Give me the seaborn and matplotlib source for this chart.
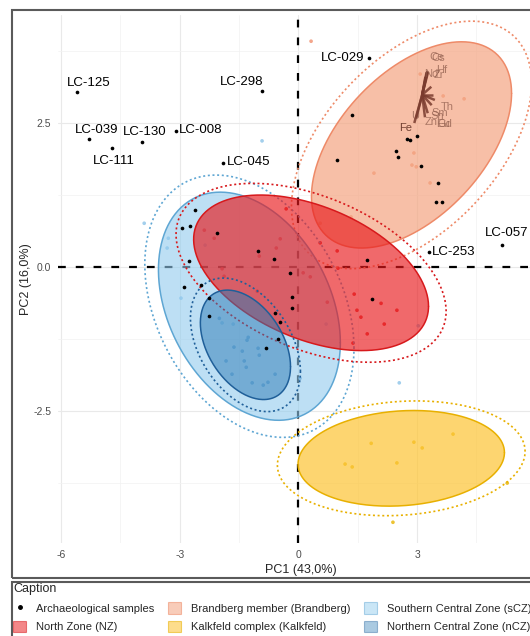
import numpy as np
import pandas as pd
import matplotlib
matplotlib.use("Agg")
import matplotlib.pyplot as plt
from matplotlib.patches import Rectangle, Patch
from matplotlib.lines import Line2D
import seaborn as sns

# labelled archaeological samples
lab_names = ["LC-125", "LC-039", "LC-111", "LC-130", "LC-008",
             "LC-298", "LC-045", "LC-029", "LC-253", "LC-057"]
lab_pc1 = [-5.59, -5.29, -4.71, -3.95, -3.09, -0.91, -1.92, 1.79, 3.30, 5.15]
lab_pc2 = [3.04, 2.22, 2.07, 2.17, 2.36, 3.06, 1.81, 3.63, 0.26, 0.38]

# other archaeological samples
arch_pc1 = [1.36, 0.98, 2.75, 2.82, 3.00, 2.47, 2.52, 3.10, 3.53, 3.48, 3.63,
            -2.61, -2.94, -2.74, -2.06, -1.02, -0.61, -2.76, -0.21, -2.89, -2.46,
            -2.26, -0.16, -0.16, -0.59, -0.46, -2.26, -0.51, -0.82, 1.86, 1.74]
arch_pc2 = [2.64, 1.86, 2.22, 2.20, 2.27, 2.01, 1.91, 1.75, 1.46, 1.13, 1.13,
            0.99, 0.68, 0.71, 0.59, 0.28, 0.14, 0.10, -0.10, -0.35, -0.31,
            -0.54, -0.52, -0.71, -0.80, -0.95, -0.85, -1.25, -1.41, -0.56, 0.12]

# geological reference groups
brand_pc1 = [0.32, 3.08, 3.66, 4.19, 2.92, 2.87, 2.98, 1.91, 3.33, 0.55, 1.33]
brand_pc2 = [3.92, 3.35, 2.97, 2.92, 1.98, 1.77, 1.74, 1.63, 1.46, 0.76, 0.87]

nz_pc1 = [-0.31, -0.46, -0.56, 0.55, 0.98, 0.12, 0.30, 1.00, 0.73, 1.41, 2.09, 2.49,
          1.48, 1.58, 2.17, 1.74, 1.38, -2.38, -2.13, -0.99, -1.93, -1.88, -1.04]
nz_pc2 = [1.01, 0.49, 0.33, 0.42, 0.28, -0.10, -0.17, -0.02, -0.61, -0.47, -0.63, -0.75,
          -0.75, -0.87, -0.99, -1.16, -1.32, 0.64, 0.50, 0.19, -0.03, -0.16, -0.42]

scz_pc1 = [-3.90, -3.29, -2.36, -3.32, -2.97, -1.93, -1.65, 0.70, 3.03, -0.92, 2.55]
scz_pc2 = [0.76, 0.50, 0.38, 0.33, -0.54, -0.97, -0.99, -0.99, -1.02, 2.19, -2.01]

ncz_pc1 = [-1.27, -1.63, -1.42, -1.83, -1.37, -1.32, -1.02, -0.99, -1.68, -1.17,
           -0.89, -0.77, -0.59, 0.04, -2.00, -1.30]
ncz_pc2 = [-1.22, -1.39, -1.46, -1.63, -1.63, -1.74, -1.41, -1.53, -1.86, -2.01,
           -2.05, -2.00, -1.86, -1.93, -0.89, -1.27]

kalk_pc1 = [1.84, 2.92, 3.13, 3.91, 1.18, 1.36, 2.49, 5.28, 2.39]
kalk_pc2 = [-3.06, -3.04, -3.14, -2.90, -3.42, -3.47, -3.40, -3.75, -4.43]

# ellipses: centre, half extent in x / y, correlation, scale of the dotted one
groups = ["Brandberg", "sCZ", "NZ", "Kalkfeld", "nCZ"]
ell_cx = [2.86, -1.24, 0.32, 2.60, -1.34]
ell_cy = [2.12, -0.68, -0.10, -3.32, -1.35]
ell_rx = [2.53, 2.30, 2.97, 2.61, 1.14]
ell_ry = [1.79, 1.98, 1.35, 0.83, 0.95]
ell_rho = [0.50, -0.32, -0.43, 0.12, -0.40]
ell_outer = [1.20, 1.15, 1.15, 1.20, 1.22]

# variable loadings (biplot arrows)
var_names = ["Cs", "Ce", "Hf", "Zr", "Nd", "Th", "Sm", "Gd", "Eu", "Sn", "Zn", "U", "Fe"]
var_origin = (3.13, 2.99)
var_pc1 = [3.26, 3.24, 3.28, 3.25, 3.21, 3.36, 3.40, 3.45, 3.37, 3.27, 3.20, 2.98, 2.93]
var_pc2 = [3.40, 3.38, 3.39, 3.35, 3.30, 3.13, 2.99, 2.90, 2.81, 2.67, 2.60, 2.59, 2.50]
var_lab_pc1 = [3.53, 3.50, 3.63, 3.55, 3.35, 3.76, 3.58, 3.70, 3.65, 3.50, 3.35, 2.95, 2.72]
var_lab_pc2 = [3.63, 3.64, 3.42, 3.33, 3.35, 2.78, 2.67, 2.48, 2.48, 2.62, 2.52, 2.62, 2.41]

fill_col = {"Brandberg": "#F4A582", "NZ": "#E8191C", "Kalkfeld": "#FDC433",
            "sCZ": "#92CBEE", "nCZ": "#2C7BB6"}
fill_alpha = {"Brandberg": 0.7, "NZ": 0.65, "Kalkfeld": 0.7, "sCZ": 0.6, "nCZ": 0.5}
edge_col = {"Brandberg": "#EE8A68", "NZ": "#D7191C", "Kalkfeld": "#E8B000",
            "sCZ": "#5EA6D3", "nCZ": "#1F5F99"}
point_col = {"Brandberg": "#F08F6E", "NZ": "#E31A1C", "Kalkfeld": "#E8B400",
             "sCZ": "#8CC3E8", "nCZ": "#4A8CC4"}

# label offsets (pixels) and alignment for the named samples
lab_off = [(11, 9), (7, 9), (2, -13), (2, 10), (3, 1), (-21, 9), (4, 1), (-5, 0), (3, 0), (5, 12)]
lab_ha = ["center", "center", "center", "center", "left", "center", "left", "right", "left", "center"]


def ellipse_xy(cx, cy, rx, ry, rho, k=1.0, n=240):
    cov = np.array([[rx ** 2, rho * rx * ry], [rho * rx * ry, ry ** 2]])
    L = np.linalg.cholesky(cov)
    t = np.linspace(0, 2 * np.pi, n)
    pts = k * (L @ np.vstack([np.cos(t), np.sin(t)]))
    return cx + pts[0], cy + pts[1]


sns.set_theme(style="white")
plt.rcParams["font.family"] = ["Liberation Sans", "DejaVu Sans"]

ref = pd.concat([
    pd.DataFrame({"PC1": brand_pc1, "PC2": brand_pc2, "group": "Brandberg"}),
    pd.DataFrame({"PC1": nz_pc1, "PC2": nz_pc2, "group": "NZ"}),
    pd.DataFrame({"PC1": scz_pc1, "PC2": scz_pc2, "group": "sCZ"}),
    pd.DataFrame({"PC1": ncz_pc1, "PC2": ncz_pc2, "group": "nCZ"}),
    pd.DataFrame({"PC1": kalk_pc1, "PC2": kalk_pc2, "group": "Kalkfeld"}),
], ignore_index=True)
arch = pd.DataFrame({"PC1": arch_pc1 + lab_pc1, "PC2": arch_pc2 + lab_pc2})

fig = plt.figure(figsize=(5.3, 6.36), dpi=100)
ax = fig.add_axes([58 / 530, 93 / 636, 485.6 / 530, 528 / 636])
ax.set_xlim(-6.08, 6.2)
ax.set_ylim(-4.79, 4.375)

ax.set_xticks([-6, -3, 0, 3])
ax.set_xticklabels(["-6", "-3", "0", "3"])
ax.set_xticks([-4.5, -1.5, 1.5, 4.5], minor=True)
ax.set_yticks([-2.5, 0, 2.5])
ax.set_yticklabels(["-2.5", "0.0", "2.5"])
ax.set_yticks([-3.75, -1.25, 1.25, 3.75], minor=True)
ax.grid(which="major", color="#E9E9E9", lw=0.8)
ax.grid(which="minor", color="#F2F2F2", lw=0.5)
ax.set_axisbelow(True)
for s in ax.spines.values():
    s.set_visible(False)
ax.tick_params(which="both", length=0, labelsize=7.5, labelcolor="#4D4D4D", pad=5)

# reference lines
ax.axhline(0, color="black", lw=1.6, dashes=(3.5, 4.5), zorder=1)
ax.axvline(0, color="black", lw=1.6, dashes=(3.5, 4.5), zorder=1)

# group points
sns.scatterplot(data=ref, x="PC1", y="PC2", hue="group", palette=point_col,
                s=7, linewidth=0, alpha=0.8, legend=False, ax=ax, zorder=2)

# ellipses
for i, g in enumerate(groups):
    xs, ys = ellipse_xy(ell_cx[i], ell_cy[i], ell_rx[i], ell_ry[i], ell_rho[i])
    ax.fill(xs, ys, facecolor=fill_col[g], alpha=fill_alpha[g], edgecolor="none", zorder=3)
    ax.plot(xs, ys, color=edge_col[g], lw=1.1, zorder=3)
    xo, yo = ellipse_xy(ell_cx[i], ell_cy[i], ell_rx[i], ell_ry[i], ell_rho[i], ell_outer[i])
    ax.plot(xo, yo, color=edge_col[g], lw=1.2, dashes=(1.2, 1.6), zorder=3)

# archaeological samples
sns.scatterplot(data=arch, x="PC1", y="PC2", color="black", s=7, linewidth=0,
                legend=False, ax=ax, zorder=4)
for i, name in enumerate(lab_names):
    ax.annotate(name, (lab_pc1[i], lab_pc2[i]), xytext=lab_off[i],
                textcoords="offset pixels", ha=lab_ha[i], va="center",
                fontsize=9.5, color="black", zorder=6)

# loadings
for i, v in enumerate(var_names):
    ax.plot([var_origin[0], var_pc1[i]], [var_origin[1], var_pc2[i]],
            color="#7A3B2E", lw=1.8, alpha=0.85, solid_capstyle="butt", zorder=5)
    ax.text(var_lab_pc1[i], var_lab_pc2[i], v, fontsize=8, ha="center", va="center",
            color="#6B3A2C" if v == "Fe" else "#8C5A4A", alpha=0.95 if v == "Fe" else 0.7,
            zorder=5)

ax.set_xlabel("PC1 (43,0%)", fontsize=9, labelpad=3)
ax.set_ylabel("PC2 (16,0%)", fontsize=9, labelpad=1)

# frames around plot and caption
fig.add_artist(Rectangle((12 / 530, 58 / 636), 1.0, 568 / 636, transform=fig.transFigure,
                         fill=False, edgecolor="#5A5A5A", lw=1.5))
fig.add_artist(Rectangle((12 / 530, -0.05), 1.0, 0.05 + 54 / 636, transform=fig.transFigure,
                         fill=False, edgecolor="#5A5A5A", lw=1.5))

# caption (legend)
def key(g, label):
    return Patch(facecolor=fill_col[g], alpha=fill_alpha[g] * 0.8, edgecolor=edge_col[g],
                 lw=0.8, label=label)

handles = [
    Line2D([], [], marker="o", ls="", color="black", markersize=2.5, label="Archaeological samples"),
    key("NZ", "North Zone (NZ)"),
    key("Brandberg", "Brandberg member (Brandberg)"),
    key("Kalkfeld", "Kalkfeld complex (Kalkfeld)"),
    key("sCZ", "Southern Central Zone (sCZ)"),
    key("nCZ", "Northern Central Zone (nCZ)"),
]
fig.legend(handles=handles, ncol=3, loc="upper left", bbox_to_anchor=(13 / 530, 1 - 583 / 636),
           frameon=False, title="Caption", alignment="left", fontsize=8, title_fontsize=9,
           handlelength=1.2, handleheight=1.2, handletextpad=0.9, columnspacing=1.2,
           labelspacing=0.65, borderpad=0, borderaxespad=0)

fig.savefig("out.png", dpi=100)
